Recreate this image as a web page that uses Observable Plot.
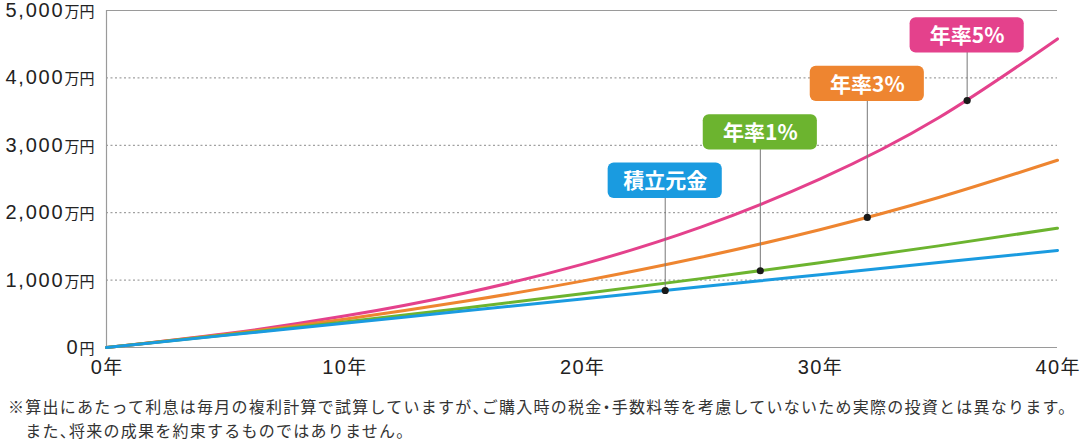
<!DOCTYPE html>
<html lang="ja">
<head>
<meta charset="utf-8">
<script src="https://cdn.jsdelivr.net/npm/d3@7"></script>
<script src="https://cdn.jsdelivr.net/npm/@observablehq/plot@0.6"></script>
<style>
  html, body { margin: 0; padding: 0; background: #fff; }
  #chart svg { display: block; }
  .note {
    font-family: "Noto Sans CJK JP", sans-serif;
    font-size: 16px; line-height: 24px; color: #333;
    letter-spacing: 1.25px; margin: 0; padding: 6px 0 0 8px; white-space: nowrap;
  }
  .note .half { font-feature-settings: "halt"; }
</style>
</head>
<body>
<div id="chart"></div>
<div class="note" id="note"></div>
<script>
// ---- data (万円) ----
const years = [0, 5, 10, 15, 20, 25, 30, 35, 40];
const principal = [0, 180, 360, 540, 720, 900, 1080, 1260, 1440];
const rate1 = [0, 184, 378, 582, 797, 1022, 1259, 1508, 1770];
const rate3 = [0, 194, 419, 681, 985, 1338, 1748, 2225, 2778];
const rate5 = [0, 204, 466, 802, 1233, 1786, 2497, 3408, 4578];

const seriesNames = ["積立元金", "年率1%", "年率3%", "年率5%"];
const seriesColors = ["#1a9be0", "#6cb42f", "#ee8530", "#e4418c"];
const markerYears = [23.5, 27.5, 32, 36.2];
const markerValues = [846, 1139, 1930, 3663];
const labelValues = [2474, 3193, 3911, 4630];

const yTicks = [0, 1000, 2000, 3000, 4000, 5000];
const xTicks = [0, 10, 20, 30, 40];
const noteLines = [
  "※算出にあたって利息は毎月の複利計算で試算していますが、ご購入時の税金・手数料等を考慮していないため実際の投資とは異なります。",
  "　また、将来の成果を約束するものではありません。"
];

// ---- tables ----
const seriesValues = [principal, rate1, rate3, rate5];
const lineData = [3, 2, 1, 0].flatMap(i =>
  years.map((yr, j) => ({ series: seriesNames[i], year: yr, value: seriesValues[i][j] })));
const callouts = seriesNames.map((s, i) => ({
  series: s, year: markerYears[i], value: markerValues[i], label: labelValues[i]
}));

const font = "'Liberation Sans', 'Noto Sans CJK JP', sans-serif";

const chart = Plot.plot({
  width: 1080,
  height: 388,
  marginLeft: 106,
  marginRight: 23,
  marginTop: 10,
  marginBottom: 41,
  style: { fontFamily: font, color: "#222", background: "#fff" },
  x: { domain: [0, 40], label: null },
  y: { domain: [0, 5000], label: null },
  color: { domain: seriesNames, range: seriesColors },
  marks: [
    Plot.gridY([1000, 2000, 3000, 4000], { stroke: "#8a8a8a", strokeOpacity: 1, strokeDasharray: "2,2.5", strokeWidth: 1 }),
    Plot.ruleY([0, 5000], { stroke: "#9a9a9a", strokeWidth: 1.2 }),
    Plot.ruleX([0], { stroke: "#9a9a9a", strokeWidth: 1.2 }),
    Plot.axisY({ ticks: yTicks, tickSize: 0, tickPadding: 12, fontSize: 20, label: null,
      tickFormat: d => d === 0 ? "0円" : d3.format(",")(d) + "万円" }),
    Plot.axisX({ ticks: xTicks, tickSize: 0, tickPadding: 12, fontSize: 20, label: null,
      tickFormat: d => d + "年" }),
    Plot.line(lineData, { x: "year", y: "value", z: "series", stroke: "series",
      strokeWidth: 3, curve: "natural" }),
    Plot.ruleX(callouts, { x: "year", y1: "value", y2: "label", stroke: "#777", strokeWidth: 1 }),
    Plot.dot(callouts, { x: "year", y: "value", r: 3.6, fill: "#1a1a1a", stroke: "none" }),
    Plot.rect(callouts, { x1: d => d.year - 2.4, x2: d => d.year + 2.4,
      y1: d => d.label - 262, y2: d => d.label + 262, fill: "series", rx: 6 }),
    Plot.text(callouts, { x: "year", y: "label", text: "series", fill: "white",
      fontSize: 21, fontWeight: "bold", ariaLabel: "callout",
      fontFamily: "'Noto Sans CJK JP', sans-serif", dy: 1 })
  ]
});

// smaller unit characters on the y-axis labels
d3.select(chart).selectAll('g[aria-label="y-axis tick label"] text').each(function () {
  const t = this.textContent;
  const m = t.match(/^([\d,]+)(.*)$/);
  if (!m) return;
  const sel = d3.select(this);
  sel.text(null);
  sel.append("tspan").attr("letter-spacing", 1.8).text(m[1]);
  sel.append("tspan").attr("font-size", 15).attr("font-family", "'Noto Sans CJK JP', sans-serif").text(m[2]);
});
d3.select(chart).selectAll('g[aria-label="x-axis tick label"] text').each(function () {
  const t = this.textContent;
  const m = t.match(/^(\d+)(.*)$/);
  if (!m) return;
  const sel = d3.select(this);
  sel.text(null);
  sel.append("tspan").attr("letter-spacing", 1.5).text(m[1]);
  sel.append("tspan").attr("font-size", 19).attr("font-family", "'Noto Sans CJK JP', sans-serif").text(m[2]);
});
// larger numerals inside callouts
d3.select(chart).selectAll('g[aria-label="callout"] text').each(function () {
  const t = this.textContent;
  const m = t.match(/^(\D+?)(\d+%)$/);
  const sel = d3.select(this);
  if (!m) { sel.attr("font-size", 22).attr("letter-spacing", 1); return; }
  sel.text(null);
  sel.append("tspan").text(m[1]);
  sel.append("tspan").attr("font-size", 25).attr("font-weight", 600)
    .attr("font-family", "'Liberation Sans', sans-serif").text(m[2]);
});

document.getElementById("chart").appendChild(chart);
const note = document.getElementById("note");
noteLines.forEach(l => {
  const d = document.createElement("div");
  l.split(/([、・])/).forEach(part => {
    if (part === "、" || part === "・") {
      const s = document.createElement("span"); s.className = "half"; s.textContent = part; d.appendChild(s);
    } else if (part) d.appendChild(document.createTextNode(part));
  });
  note.appendChild(d);
});
</script>
</body>
</html>
